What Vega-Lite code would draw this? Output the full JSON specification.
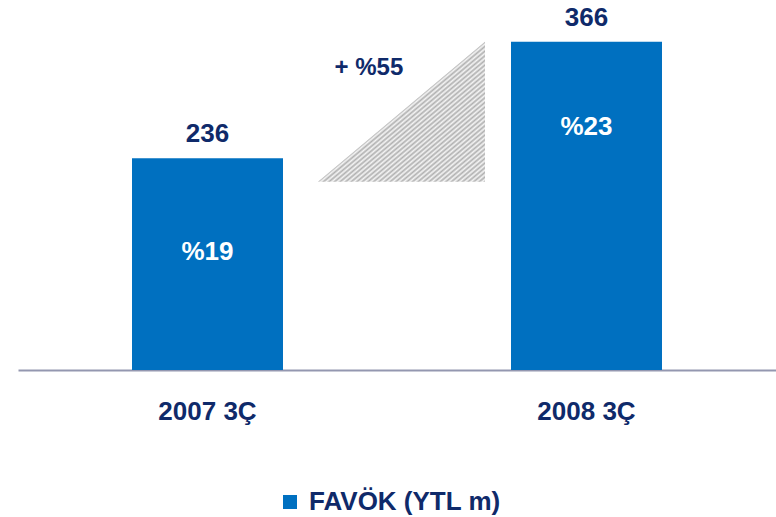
{
  "$schema": "https://vega.github.io/schema/vega-lite/v6.json",
  "width": 758,
  "height": 370,
  "autosize": {"type": "none"},
  "padding": {"left": 18, "top": 0, "right": 0, "bottom": 147},
  "background": "#ffffff",
  "config": {
    "view": {"stroke": null},
    "font": "Liberation Sans"
  },
  "datasets": {
    "bars": [
      {"period": "2007 3Ç", "value": 236, "margin": "%19", "series": "FAVÖK (YTL m)"},
      {"period": "2008 3Ç", "value": 366, "margin": "%23", "series": "FAVÖK (YTL m)"}
    ],
    "growth": [
      {"u": 0.2916, "lo": 210, "hi": 210},
      {"u": 0.7322, "lo": 210, "hi": 366}
    ],
    "growthLabel": [
      {"u": 0.426, "v": 329, "label": "+ %55"}
    ]
  },
  "resolve": {"scale": {"x": "independent"}, "axis": {"x": "independent"}},
  "layer": [
    {
      "data": {"name": "bars"},
      "encoding": {
        "x": {
          "field": "period", "type": "nominal", "sort": null,
          "scale": {"domain": ["2007 3Ç", "2008 3Ç"], "paddingInner": 0.6016, "paddingOuter": 0.3008},
          "axis": {
            "title": null, "orient": "bottom", "ticks": false, "labelAngle": 0,
            "domainColor": "#9497b0", "domainWidth": 2,
            "labelFont": "Liberation Sans", "labelFontSize": 26, "labelFontWeight": "bold",
            "labelColor": "#0f2a6a", "labelPadding": 28
          }
        },
        "y": {"field": "value", "type": "quantitative", "scale": {"domain": [0, 412.5], "nice": false, "zero": true}, "axis": null}
      },
      "layer": [
        {
          "mark": {"type": "bar"},
          "encoding": {
            "color": {
              "field": "series", "type": "nominal",
              "scale": {"range": ["#0070C0"]},
              "legend": {
                "orient": "none", "legendX": 259, "legendY": 489, "title": null, "padding": 0,
                "symbolType": "square", "symbolSize": 196, "symbolStrokeWidth": 0, "symbolOpacity": 1,
                "labelFont": "Liberation Sans", "labelFontSize": 26, "labelFontWeight": "bold",
                "labelColor": "#0f2a6a", "labelOffset": 6, "labelLimit": 400
              }
            }
          }
        },
        {
          "mark": {"type": "text", "baseline": "alphabetic", "dy": -16, "fontSize": 26, "fontWeight": "bold", "color": "#0f2a6a", "font": "Liberation Sans"},
          "encoding": {"text": {"field": "value", "type": "quantitative"}}
        },
        {
          "transform": [{"filter": "datum.period === '2007 3Ç'"}],
          "mark": {"type": "text", "baseline": "alphabetic", "dy": 102, "fontSize": 26, "fontWeight": "bold", "color": "#ffffff", "font": "Liberation Sans"},
          "encoding": {"text": {"field": "margin", "type": "nominal"}}
        },
        {
          "transform": [{"filter": "datum.period === '2008 3Ç'"}],
          "mark": {"type": "text", "baseline": "alphabetic", "dy": 93, "fontSize": 26, "fontWeight": "bold", "color": "#ffffff", "font": "Liberation Sans"},
          "encoding": {"text": {"field": "margin", "type": "nominal"}}
        }
      ]
    },
    {
      "data": {"name": "growth"},
      "mark": {
        "type": "area",
        "color": {
          "gradient": "linear", "x1": 0.5, "y1": 0.5, "x2": 1, "y2": 1,
          "stops": [
            {"offset": 0, "color": "#b0b0b0"}, {"offset": 0.0167, "color": "#f5f5f5"},
            {"offset": 0.0333, "color": "#b0b0b0"}, {"offset": 0.05, "color": "#f5f5f5"},
            {"offset": 0.0667, "color": "#b0b0b0"}, {"offset": 0.0833, "color": "#f5f5f5"},
            {"offset": 0.1, "color": "#b0b0b0"}, {"offset": 0.1167, "color": "#f5f5f5"},
            {"offset": 0.1333, "color": "#b0b0b0"}, {"offset": 0.15, "color": "#f5f5f5"},
            {"offset": 0.1667, "color": "#b0b0b0"}, {"offset": 0.1833, "color": "#f5f5f5"},
            {"offset": 0.2, "color": "#b0b0b0"}, {"offset": 0.2167, "color": "#f5f5f5"},
            {"offset": 0.2333, "color": "#b0b0b0"}, {"offset": 0.25, "color": "#f5f5f5"},
            {"offset": 0.2667, "color": "#b0b0b0"}, {"offset": 0.2833, "color": "#f5f5f5"},
            {"offset": 0.3, "color": "#b0b0b0"}, {"offset": 0.3167, "color": "#f5f5f5"},
            {"offset": 0.3333, "color": "#b0b0b0"}, {"offset": 0.35, "color": "#f5f5f5"},
            {"offset": 0.3667, "color": "#b0b0b0"}, {"offset": 0.3833, "color": "#f5f5f5"},
            {"offset": 0.4, "color": "#b0b0b0"}, {"offset": 0.4167, "color": "#f5f5f5"},
            {"offset": 0.4333, "color": "#b0b0b0"}, {"offset": 0.45, "color": "#f5f5f5"},
            {"offset": 0.4667, "color": "#b0b0b0"}, {"offset": 0.4833, "color": "#f5f5f5"},
            {"offset": 0.5, "color": "#b0b0b0"}, {"offset": 0.5167, "color": "#f5f5f5"},
            {"offset": 0.5333, "color": "#b0b0b0"}, {"offset": 0.55, "color": "#f5f5f5"},
            {"offset": 0.5667, "color": "#b0b0b0"}, {"offset": 0.5833, "color": "#f5f5f5"},
            {"offset": 0.6, "color": "#b0b0b0"}, {"offset": 0.6167, "color": "#f5f5f5"},
            {"offset": 0.6333, "color": "#b0b0b0"}, {"offset": 0.65, "color": "#f5f5f5"},
            {"offset": 0.6667, "color": "#b0b0b0"}, {"offset": 0.6833, "color": "#f5f5f5"},
            {"offset": 0.7, "color": "#b0b0b0"}, {"offset": 0.7167, "color": "#f5f5f5"},
            {"offset": 0.7333, "color": "#b0b0b0"}, {"offset": 0.75, "color": "#f5f5f5"},
            {"offset": 0.7667, "color": "#b0b0b0"}, {"offset": 0.7833, "color": "#f5f5f5"},
            {"offset": 0.8, "color": "#b0b0b0"}, {"offset": 0.8167, "color": "#f5f5f5"},
            {"offset": 0.8333, "color": "#b0b0b0"}, {"offset": 0.85, "color": "#f5f5f5"},
            {"offset": 0.8667, "color": "#b0b0b0"}, {"offset": 0.8833, "color": "#f5f5f5"},
            {"offset": 0.9, "color": "#b0b0b0"}, {"offset": 0.9167, "color": "#f5f5f5"},
            {"offset": 0.9333, "color": "#b0b0b0"}, {"offset": 0.95, "color": "#f5f5f5"},
            {"offset": 0.9667, "color": "#b0b0b0"}, {"offset": 0.9833, "color": "#f5f5f5"},
            {"offset": 1, "color": "#b0b0b0"}
          ]
        }
      },
      "encoding": {
        "x": {"field": "u", "type": "quantitative", "scale": {"domain": [-0.5, 1.5], "nice": false, "zero": false}, "axis": null},
        "y": {"field": "hi", "type": "quantitative"},
        "y2": {"field": "lo"}
      }
    },
    {
      "data": {"name": "growthLabel"},
      "mark": {"type": "text", "baseline": "alphabetic", "align": "center", "fontSize": 24, "fontWeight": "bold", "color": "#0f2a6a", "font": "Liberation Sans"},
      "encoding": {
        "x": {"field": "u", "type": "quantitative", "scale": {"domain": [-0.5, 1.5], "nice": false, "zero": false}, "axis": null},
        "y": {"field": "v", "type": "quantitative"},
        "text": {"field": "label", "type": "nominal"}
      }
    }
  ]
}
